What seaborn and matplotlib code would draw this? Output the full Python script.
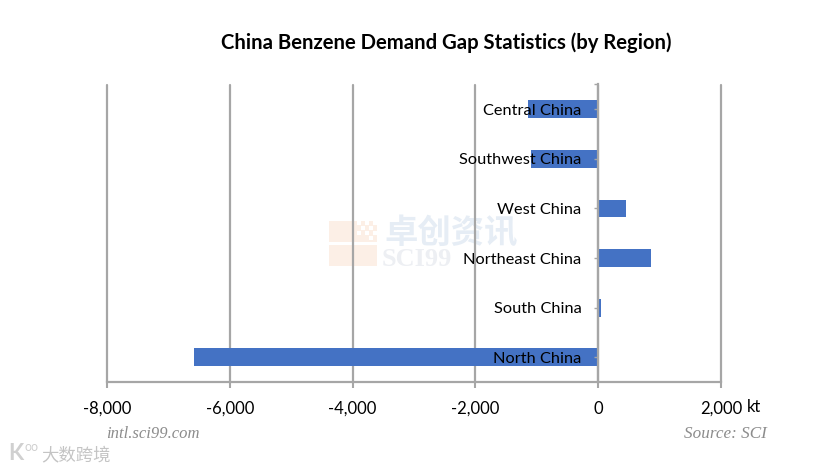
import matplotlib
matplotlib.use("Agg")
import matplotlib.pyplot as plt
from matplotlib.patches import Rectangle
from matplotlib.ticker import FuncFormatter
import pandas as pd
import seaborn as sns

regions = ["Central China", "Southwest China", "West China", "Northeast China", "South China", "North China"]
gap = [-1150, -1100, 460, 860, 40, -6590]
xticks = [-8000, -6000, -4000, -2000, 0, 2000]

W, H = 838, 470
sns.set_theme(style="white")
plt.rcParams["font.family"] = ["Lato", "Noto Sans CJK SC", "DejaVu Sans"]

fig = plt.figure(figsize=(W / 100, H / 100), dpi=100, facecolor="white")
ax = fig.add_axes([107 / W, 1 - 382 / H, (721 - 107) / W, (382 - 84.5) / H], facecolor="none")

df = pd.DataFrame({"region": regions, "gap": gap})
sns.barplot(data=df, y="region", x="gap", color="#4472C4", saturation=1, width=0.36,
            linewidth=0, edgecolor="none", ax=ax, zorder=2)

GREY = "#A6A6A6"
ax.set_xlim(-8000, 2000)
ax.set_ylim(5.5, -0.5)
ax.set_xlabel("")
ax.set_ylabel("")
ax.set_xticks(xticks)
ax.xaxis.set_major_formatter(FuncFormatter(lambda v, _: f"{int(v):,}"))
ax.grid(axis="x", color=GREY, lw=1.6, zorder=1)
ax.grid(axis="y", visible=False)
ax.set_axisbelow(True)
for gl in ax.get_xgridlines():
    gl.set_clip_on(False)

for s in ("top", "right"):
    ax.spines[s].set_visible(False)
ax.spines["bottom"].set_color(GREY)
ax.spines["bottom"].set_linewidth(1.6)
ax.spines["left"].set_position(("data", 0))
ax.spines["left"].set_color(GREY)
ax.spines["left"].set_linewidth(1.6)
ax.spines["left"].set_zorder(3)

ax.tick_params(axis="x", length=4.5, width=1.5, color=GREY, labelsize=12, labelcolor="black", pad=9, bottom=True)
ax.tick_params(axis="y", which="both", length=3, width=1, color=GREY, labelsize=11.8, labelcolor="black", pad=9, left=True)
ax.set_yticks([-0.5], minor=True)
ax.yaxis.set_zorder(5)

fig.text(446 / W, 1 - 43 / H, "China Benzene Demand Gap Statistics (by Region)",
         ha="center", va="center", fontsize=14.6, fontweight="bold", color="black")
fig.text(761 / W, 1 - 407 / H, "kt", ha="right", va="center", fontsize=12, color="black")

fig.text(106 / W, 1 - 434 / H, "intl.sci99.com", ha="left", va="center", fontsize=12,
         family="Liberation Serif", style="italic", color="#8C8C8C")
fig.text(767 / W, 1 - 434 / H, "Source: SCI", ha="right", va="center", fontsize=12.3,
         family="Liberation Serif", style="italic", color="#8C8C8C")

# background watermark
for (x, y, w, h) in [(329, 221, 48, 21), (329, 245, 48, 21)]:
    fig.add_artist(Rectangle((x / W, 1 - (y + h) / H), w / W, h / H, transform=fig.transFigure,
                             facecolor="#FCEFE6", edgecolor="none", zorder=-5))
for (x, y) in [(357, 221), (365, 221), (373, 221), (361, 226), (369, 226), (357, 231), (365, 231), (373, 231), (369, 236)]:
    fig.add_artist(Rectangle((x / W, 1 - (y + 4) / H), 4 / W, 4 / H, transform=fig.transFigure,
                             facecolor="white", edgecolor="none", zorder=-4.5))
fig.text(384 / W, 1 - 233 / H, "卓创资讯", ha="left", va="center", fontsize=24, fontweight="bold",
         family="Noto Sans CJK SC", color="#E6EDF5", zorder=-4)
fig.text(382 / W, 1 - 260 / H, "SCI99", ha="left", va="center", fontsize=19, fontweight="bold",
         family="Liberation Serif", color="#EDEFF3", zorder=-4)

# corner watermark
fig.text(8 / W, 1 - 454 / H, "K", ha="left", va="center", fontsize=16, fontweight="bold", color="#D0D0D0")
fig.text(24 / W, 1 - 447 / H, "oo", ha="left", va="center", fontsize=9, color="#D0D0D0")
fig.text(41 / W, 1 - 455 / H, "大数跨境", ha="left", va="center", fontsize=12.5,
         family="Noto Sans CJK SC", color="#C4C4C4")

fig.savefig("out.png", dpi=100, facecolor="white")
